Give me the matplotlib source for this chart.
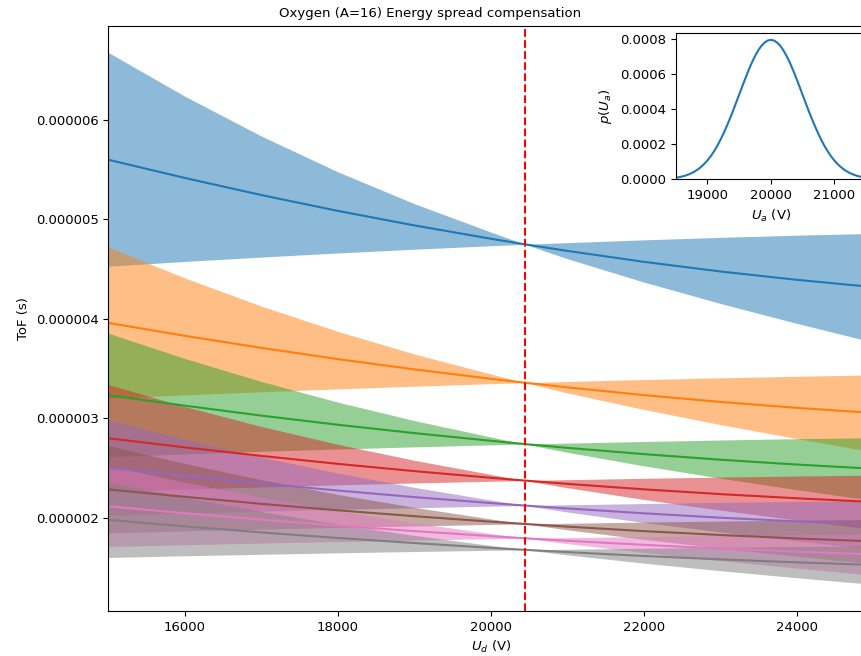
import matplotlib.pyplot as plt
from matplotlib.ticker import FormatStrFormatter, MultipleLocator

# ----------------------------
# DATA  (ToF values in microseconds)
# ----------------------------
ud = [15000, 16000, 17000, 18000, 19000, 20000, 20444, 21000, 22000, 23000, 24000, 25000]
ud_comp = 20444

# ToF for nominal Ua, and the two edges of the Ua spread, charge states 1..8
tof_q1 = [5.600, 5.417, 5.245, 5.086, 4.940, 4.806, 4.750, 4.684, 4.574, 4.477, 4.393, 4.320]
edge_a_q1 = [6.678, 6.238, 5.838, 5.478, 5.158, 4.873, 4.750, 4.605, 4.370, 4.155, 3.955, 3.765]
edge_b_q1 = [4.530, 4.578, 4.622, 4.663, 4.701, 4.736, 4.750, 4.767, 4.795, 4.820, 4.842, 4.860]

tof_q2 = [3.960, 3.830, 3.709, 3.596, 3.493, 3.398, 3.359, 3.312, 3.234, 3.166, 3.106, 3.055]
edge_a_q2 = [4.722, 4.411, 4.128, 3.874, 3.647, 3.446, 3.359, 3.256, 3.090, 2.938, 2.797, 2.662]
edge_b_q2 = [3.203, 3.237, 3.268, 3.297, 3.324, 3.349, 3.359, 3.371, 3.391, 3.408, 3.424, 3.437]

tof_q3 = [3.233, 3.128, 3.028, 2.936, 2.852, 2.775, 2.742, 2.704, 2.641, 2.585, 2.536, 2.494]
edge_a_q3 = [3.856, 3.602, 3.371, 3.163, 2.978, 2.813, 2.742, 2.659, 2.523, 2.399, 2.283, 2.174]
edge_b_q3 = [2.615, 2.643, 2.669, 2.692, 2.714, 2.734, 2.742, 2.752, 2.768, 2.783, 2.796, 2.806]

tof_q4 = [2.800, 2.709, 2.623, 2.543, 2.470, 2.403, 2.375, 2.342, 2.287, 2.239, 2.197, 2.160]
edge_a_q4 = [3.339, 3.119, 2.919, 2.739, 2.579, 2.437, 2.375, 2.303, 2.185, 2.078, 1.978, 1.883]
edge_b_q4 = [2.265, 2.289, 2.311, 2.332, 2.351, 2.368, 2.375, 2.384, 2.398, 2.410, 2.421, 2.430]

tof_q5 = [2.504, 2.423, 2.346, 2.275, 2.209, 2.149, 2.124, 2.095, 2.046, 2.002, 1.965, 1.932]
edge_a_q5 = [2.987, 2.790, 2.611, 2.450, 2.307, 2.179, 2.124, 2.059, 1.954, 1.858, 1.769, 1.684]
edge_b_q5 = [2.026, 2.047, 2.067, 2.085, 2.102, 2.118, 2.124, 2.132, 2.144, 2.156, 2.165, 2.173]

tof_q6 = [2.286, 2.212, 2.141, 2.076, 2.017, 1.962, 1.939, 1.912, 1.867, 1.828, 1.793, 1.764]
edge_a_q6 = [2.726, 2.547, 2.383, 2.236, 2.106, 1.989, 1.939, 1.880, 1.784, 1.696, 1.615, 1.537]
edge_b_q6 = [1.849, 1.869, 1.887, 1.904, 1.919, 1.934, 1.939, 1.946, 1.958, 1.968, 1.977, 1.984]

tof_q7 = [2.117, 2.047, 1.982, 1.922, 1.867, 1.817, 1.795, 1.770, 1.729, 1.692, 1.660, 1.633]
edge_a_q7 = [2.524, 2.358, 2.207, 2.071, 1.950, 1.842, 1.795, 1.741, 1.652, 1.570, 1.495, 1.423]
edge_b_q7 = [1.712, 1.730, 1.747, 1.762, 1.777, 1.790, 1.795, 1.802, 1.812, 1.822, 1.830, 1.837]

tof_q8 = [1.980, 1.915, 1.854, 1.798, 1.747, 1.699, 1.679, 1.656, 1.617, 1.583, 1.553, 1.527]
edge_a_q8 = [2.361, 2.205, 2.064, 1.937, 1.824, 1.723, 1.679, 1.628, 1.545, 1.469, 1.398, 1.331]
edge_b_q8 = [1.602, 1.619, 1.634, 1.649, 1.662, 1.674, 1.679, 1.685, 1.695, 1.704, 1.712, 1.718]

centers = [tof_q1, tof_q2, tof_q3, tof_q4, tof_q5, tof_q6, tof_q7, tof_q8]
edges_a = [edge_a_q1, edge_a_q2, edge_a_q3, edge_a_q4, edge_a_q5, edge_a_q6, edge_a_q7, edge_a_q8]
edges_b = [edge_b_q1, edge_b_q2, edge_b_q3, edge_b_q4, edge_b_q5, edge_b_q6, edge_b_q7, edge_b_q8]

# inset: distribution of the acceleration voltage
ua = [18500, 18550, 18600, 18650, 18700, 18750, 18800, 18850, 18900, 18950,
      19000, 19050, 19100, 19150, 19200, 19250, 19300, 19350, 19400, 19450,
      19500, 19550, 19600, 19650, 19700, 19750, 19800, 19850, 19900, 19950,
      20000, 20050, 20100, 20150, 20200, 20250, 20300, 20350, 20400, 20450,
      20500, 20550, 20600, 20650, 20700, 20750, 20800, 20850, 20900, 20950,
      21000, 21050, 21100, 21150, 21200, 21250, 21300, 21350, 21400, 21450, 21500]
p_ua = [0.0000089, 0.0000119, 0.0000158, 0.0000208, 0.0000272, 0.0000351, 0.0000448,
        0.0000567, 0.0000710, 0.0000880, 0.000108, 0.000131, 0.000158, 0.000188,
        0.000222, 0.000259, 0.000300, 0.000343, 0.000388, 0.000436, 0.000484,
        0.000532, 0.000579, 0.000625, 0.000667, 0.000704, 0.000737, 0.000763,
        0.000782, 0.000794, 0.000798, 0.000794, 0.000782, 0.000763, 0.000737,
        0.000704, 0.000667, 0.000625, 0.000579, 0.000532, 0.000484, 0.000436,
        0.000388, 0.000343, 0.000300, 0.000259, 0.000222, 0.000188, 0.000158,
        0.000131, 0.000108, 0.0000880, 0.0000710, 0.0000567, 0.0000448, 0.0000351,
        0.0000272, 0.0000208, 0.0000158, 0.0000119, 0.0000089]

FS = 9.5
plt.rcParams['font.size'] = FS

# ----------------------------
# PLOT
# ----------------------------
fig = plt.figure(figsize=(8.61, 6.56), dpi=100)
ax = fig.add_axes([0.126, 0.0686, 0.8885, 0.8918])

for i in range(len(centers)):
    col = "C%d" % i
    ax.plot(ud, [v * 1e-6 for v in centers[i]], color=col, lw=1.5)
    ax.fill_between(ud, [v * 1e-6 for v in edges_a[i]], [v * 1e-6 for v in edges_b[i]],
                    color=col, alpha=0.5, lw=0)

ax.axvline(ud_comp, color="red", ls="--", lw=1.5)

ax.set_xlim(15000, 25000)
ax.set_ylim(1.064e-6, 6.945e-6)
ax.yaxis.set_major_locator(MultipleLocator(1e-6))
ax.yaxis.set_major_formatter(FormatStrFormatter("%.6f"))
ax.set_xlabel("$U_d$ (V)", fontsize=FS)
ax.set_ylabel("ToF (s)", fontsize=FS)

fig.text(0.5, 1 - 13 / 656, "Oxygen (A=16) Energy spread compensation",
         ha="center", va="center", fontsize=FS)

# inset
axin = fig.add_axes([0.7848, 0.7267, 0.2210, 0.2230])
axin.plot(ua, p_ua, color="C0", lw=1.5)
axin.set_xlim(18500, 21500)
axin.set_ylim(0, 0.000837)
axin.xaxis.set_major_locator(MultipleLocator(1000))
axin.yaxis.set_major_locator(MultipleLocator(0.0002))
axin.yaxis.set_major_formatter(FormatStrFormatter("%.4f"))
axin.set_xlabel("$U_a$ (V)", fontsize=FS)
axin.set_ylabel("$p(U_a)$", fontsize=FS)

fig.savefig("out.png", dpi=100)
